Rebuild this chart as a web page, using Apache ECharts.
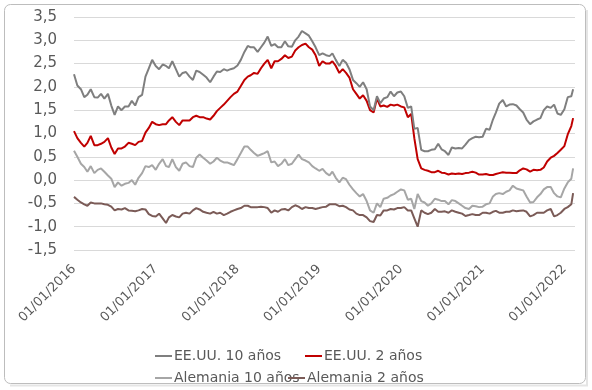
<!DOCTYPE html>
<html>
<head>
<meta charset="utf-8">
<script src="https://cdn.jsdelivr.net/npm/echarts@6/dist/echarts.min.js"></script>
<style>
html,body{margin:0;padding:0;background:#fff;}
#chart{width:592px;height:390px;}
</style>
</head>
<body>
<div id="chart"></div>
<script>
// Semi-monthly observation dates (1st and 16th of each month), last point 9 Feb 2022
const dates = [];
for (let y = 2016; y <= 2021; y++) {
  for (let m = 1; m <= 12; m++) {
    dates.push(y + '-' + String(m).padStart(2, '0') + '-01');
    dates.push(y + '-' + String(m).padStart(2, '0') + '-16');
  }
}
dates.push('2022-01-01', '2022-01-16', '2022-02-01', '2022-02-09');

const seriesNames = ['EE.UU. 10 años', 'EE.UU. 2 años', 'Alemania 10 años', 'Alemania 2 años'];

const us10 = [
  2.27,2.03,1.95,1.78,1.83,1.95,1.78,1.77,1.85,1.75,1.85,1.60,1.40,1.58,1.50,1.58,1.58,1.70,1.60,1.78,1.83,2.22,2.40,2.58,
  2.45,2.38,2.48,2.45,2.40,2.55,2.38,2.22,2.30,2.32,2.22,2.15,2.35,2.32,2.26,2.20,2.10,2.22,2.33,2.32,2.38,2.35,2.38,2.40,
  2.46,2.58,2.75,2.88,2.85,2.85,2.75,2.85,2.95,3.08,2.88,2.92,2.85,2.85,2.98,2.87,2.86,3.00,3.08,3.20,3.15,3.10,2.98,2.85,
  2.68,2.72,2.68,2.66,2.72,2.58,2.45,2.58,2.52,2.38,2.15,2.08,2.00,2.10,1.95,1.58,1.50,1.80,1.65,1.75,1.78,1.90,1.80,1.88,
  1.90,1.80,1.55,1.58,1.10,1.12,0.65,0.62,0.62,0.65,0.66,0.78,0.66,0.62,0.54,0.70,0.68,0.69,0.68,0.76,0.86,0.90,0.93,0.92,
  0.93,1.10,1.08,1.30,1.45,1.64,1.72,1.58,1.62,1.63,1.60,1.52,1.45,1.30,1.20,1.26,1.30,1.33,1.50,1.58,1.55,1.62,1.43,1.40,
  1.52,1.78,1.80,1.95
];
const us2 = [
  1.05,0.90,0.80,0.72,0.80,0.95,0.75,0.75,0.78,0.82,0.90,0.70,0.56,0.68,0.68,0.72,0.80,0.78,0.75,0.82,0.84,1.02,1.12,1.25,
  1.20,1.18,1.20,1.20,1.28,1.35,1.25,1.18,1.28,1.28,1.28,1.35,1.38,1.35,1.35,1.32,1.30,1.38,1.48,1.55,1.62,1.70,1.78,1.85,
  1.90,2.02,2.15,2.22,2.25,2.30,2.28,2.40,2.50,2.58,2.40,2.55,2.55,2.60,2.68,2.62,2.65,2.78,2.85,2.90,2.93,2.85,2.80,2.68,
  2.45,2.55,2.50,2.50,2.55,2.45,2.30,2.38,2.30,2.20,1.95,1.85,1.75,1.82,1.70,1.50,1.45,1.75,1.58,1.60,1.57,1.62,1.60,1.62,
  1.58,1.56,1.35,1.42,0.90,0.45,0.25,0.22,0.20,0.17,0.17,0.20,0.16,0.15,0.12,0.14,0.13,0.14,0.13,0.15,0.16,0.18,0.16,0.12,
  0.12,0.13,0.11,0.11,0.13,0.15,0.17,0.16,0.16,0.15,0.15,0.21,0.25,0.23,0.18,0.22,0.21,0.22,0.27,0.40,0.48,0.52,0.58,0.65,
  0.73,0.98,1.16,1.33
];
const ge10 = [
  0.63,0.50,0.35,0.28,0.18,0.30,0.15,0.22,0.25,0.18,0.10,0.03,-0.15,-0.05,-0.12,-0.08,-0.06,0.00,-0.10,0.05,0.15,0.30,0.28,0.32,
  0.22,0.35,0.45,0.30,0.28,0.45,0.28,0.20,0.35,0.38,0.30,0.28,0.48,0.55,0.48,0.42,0.35,0.40,0.48,0.42,0.38,0.38,0.35,0.32,
  0.45,0.58,0.72,0.72,0.65,0.58,0.52,0.55,0.58,0.62,0.38,0.40,0.30,0.35,0.45,0.32,0.35,0.45,0.55,0.45,0.42,0.38,0.30,0.25,
  0.20,0.24,0.15,0.10,0.18,0.05,-0.05,0.05,0.02,-0.10,-0.20,-0.28,-0.35,-0.30,-0.45,-0.65,-0.70,-0.50,-0.58,-0.40,-0.38,-0.33,-0.30,-0.25,
  -0.20,-0.22,-0.42,-0.40,-0.62,-0.30,-0.45,-0.48,-0.55,-0.50,-0.40,-0.42,-0.45,-0.45,-0.52,-0.43,-0.45,-0.50,-0.55,-0.60,-0.62,-0.55,-0.56,-0.58,
  -0.57,-0.52,-0.50,-0.35,-0.30,-0.28,-0.30,-0.25,-0.22,-0.12,-0.18,-0.20,-0.22,-0.35,-0.48,-0.47,-0.37,-0.30,-0.20,-0.15,-0.15,-0.28,-0.35,-0.37,
  -0.18,-0.05,0.03,0.25
];
const ge2 = [
  -0.36,-0.42,-0.48,-0.52,-0.55,-0.48,-0.50,-0.50,-0.50,-0.52,-0.53,-0.57,-0.65,-0.62,-0.63,-0.60,-0.65,-0.66,-0.67,-0.65,-0.62,-0.63,-0.73,-0.77,
  -0.78,-0.72,-0.82,-0.92,-0.80,-0.75,-0.78,-0.80,-0.72,-0.70,-0.72,-0.65,-0.60,-0.63,-0.68,-0.70,-0.72,-0.68,-0.72,-0.70,-0.75,-0.72,-0.68,-0.65,
  -0.62,-0.60,-0.55,-0.55,-0.58,-0.58,-0.58,-0.57,-0.58,-0.60,-0.70,-0.65,-0.68,-0.63,-0.62,-0.65,-0.58,-0.54,-0.57,-0.62,-0.58,-0.60,-0.60,-0.62,
  -0.60,-0.58,-0.57,-0.52,-0.52,-0.52,-0.56,-0.55,-0.58,-0.63,-0.65,-0.72,-0.75,-0.75,-0.80,-0.88,-0.90,-0.75,-0.76,-0.65,-0.65,-0.62,-0.63,-0.60,
  -0.60,-0.58,-0.65,-0.65,-0.82,-1.00,-0.65,-0.70,-0.73,-0.70,-0.62,-0.68,-0.68,-0.67,-0.70,-0.65,-0.68,-0.70,-0.72,-0.77,-0.75,-0.73,-0.75,-0.75,
  -0.70,-0.70,-0.72,-0.68,-0.66,-0.70,-0.70,-0.68,-0.68,-0.65,-0.67,-0.66,-0.65,-0.68,-0.78,-0.75,-0.70,-0.70,-0.70,-0.65,-0.62,-0.78,-0.75,-0.70,
  -0.62,-0.58,-0.52,-0.28
];

const yTicks = { min: -1.5, max: 3.5, step: 0.5 };
const xYears = { first: 2016, last: 2022 };

function yearFrac(s) {
  const [y, m, d] = s.split('-').map(Number);
  const t = Date.UTC(y, m - 1, d), t0 = Date.UTC(y, 0, 1), t1 = Date.UTC(y + 1, 0, 1);
  return y + (t - t0) / (t1 - t0);
}
const xs = dates.map(yearFrac);
const pair = arr => arr.map((v, i) => [xs[i], v]);

const colors = ['#7f7f7f', '#c00000', '#a6a6a6', '#7b5b57'];
const font = 'DejaVu Sans';
const txt = '#595959';

const chart = echarts.init(document.getElementById('chart'), null, { renderer: 'canvas' });

const legendPos = [[150, 344], [300, 344], [150, 366], [283, 366]];
const legends = seriesNames.map((n, i) => ({
  data: [n],
  left: legendPos[i][0], top: legendPos[i][1],
  icon: 'rect', itemWidth: 17, itemHeight: 2, itemGap: 0,
  textStyle: { fontFamily: font, fontSize: 14, color: txt, padding: [0, 0, 0, -3] },
  selectedMode: false
}));

chart.setOption({
  animation: false,
  backgroundColor: '#ffffff',
  color: colors,
  graphic: {
    elements: [{
      type: 'rect', silent: true, z: 100,
      shape: { x: 4.5, y: 4.5, width: 581, height: 379, r: 6 },
      style: { fill: null, stroke: '#bdbdbd', lineWidth: 1 }
    }, {
      type: 'polyline', silent: true, z: 99,
      shape: { points: [[587, 10], [587, 385.5], [10, 385.5]] },
      style: { fill: null, stroke: 'rgba(0,0,0,0.10)', lineWidth: 2 }
    }]
  },
  grid: { left: 74, right: 17, top: 17, bottom: 140, containLabel: false },
  legend: legends,
  xAxis: {
    type: 'value', min: xYears.first, max: 2022.13, interval: 1,
    axisLine: { show: false }, axisTick: { show: false }, splitLine: { show: false },
    axisLabel: {
      rotate: 45, margin: 17, fontFamily: font, fontSize: 13, color: txt,
      showMaxLabel: false,
      formatter: v => (Number.isInteger(v) && v <= xYears.last) ? '01/01/' + v : ''
    }
  },
  yAxis: {
    type: 'value', min: yTicks.min, max: yTicks.max, interval: yTicks.step,
    axisLine: { show: false }, axisTick: { show: false },
    splitLine: { lineStyle: { color: '#d9d9d9', width: 1 } },
    axisLabel: {
      margin: 17, fontFamily: font, fontSize: 15, color: txt,
      formatter: v => v.toFixed(1).replace('.', ',')
    }
  },
  series: [us10, us2, ge10, ge2].map((arr, i) => ({
    name: seriesNames[i], type: 'line', data: pair(arr),
    showSymbol: false, symbol: 'none', smooth: false,
    lineStyle: { width: 2, color: colors[i] }, itemStyle: { color: colors[i] },
    z: 4 - i
  }))
});
</script>
</body>
</html>
